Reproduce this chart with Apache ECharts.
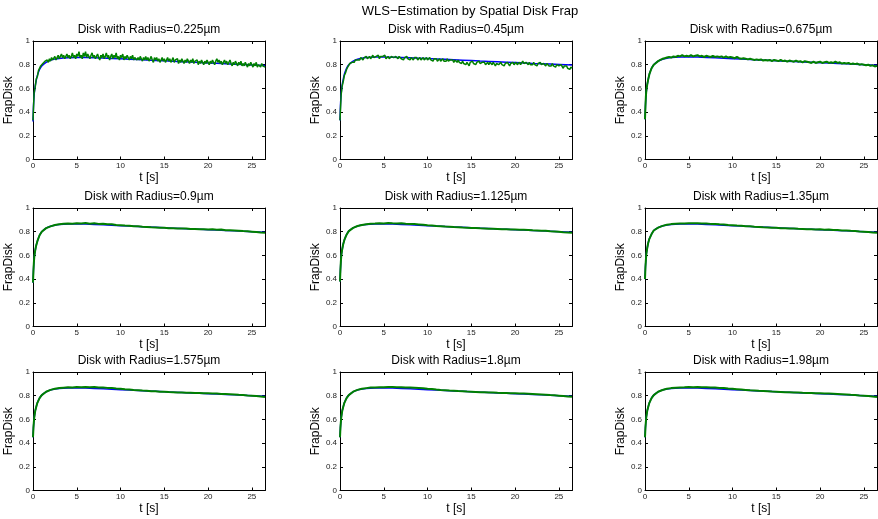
<!DOCTYPE html>
<html>
<head>
<meta charset="utf-8">
<script src="https://cdn.jsdelivr.net/npm/echarts@6/dist/echarts.min.js"></script>
<style>html,body{margin:0;padding:0;background:#fff;}#c{width:878px;height:519px;}</style>
</head>
<body>
<div id="c"></div>
<script>
const mainTitle = 'WLS\u2212Estimation by Spatial Disk Frap';
const radii = ['0.225', '0.45', '0.675', '0.9', '1.125', '1.35', '1.575', '1.8', '1.98'];
const xTicks = [0, 5, 10, 15, 20, 25];
const yTicks = [0, 0.2, 0.4, 0.6, 0.8, 1];

// time grid of the fitted curves
const tF = [0,0.05,0.1,0.15,0.25,0.35,0.5,0.75,1,1.5,2,2.5,3,4,5,6,8,10,12,14,16,18,20,22,24,26.5];
// dense time grid (panels 1-2 measured data)
const tD = [
0,0.125,0.25,0.375,0.5,0.625,0.75,0.875,
1,1.125,1.25,1.375,1.5,1.625,1.75,1.875,
2,2.125,2.25,2.375,2.5,2.625,2.75,2.875,
3,3.125,3.25,3.375,3.5,3.625,3.75,3.875,
4,4.125,4.25,4.375,4.5,4.625,4.75,4.875,
5,5.125,5.25,5.375,5.5,5.625,5.75,5.875,
6,6.125,6.25,6.375,6.5,6.625,6.75,6.875,
7,7.125,7.25,7.375,7.5,7.625,7.75,7.875,
8,8.125,8.25,8.375,8.5,8.625,8.75,8.875,
9,9.125,9.25,9.375,9.5,9.625,9.75,9.875,
10,10.125,10.25,10.375,10.5,10.625,10.75,10.875,
11,11.125,11.25,11.375,11.5,11.625,11.75,11.875,
12,12.125,12.25,12.375,12.5,12.625,12.75,12.875,
13,13.125,13.25,13.375,13.5,13.625,13.75,13.875,
14,14.125,14.25,14.375,14.5,14.625,14.75,14.875,
15,15.125,15.25,15.375,15.5,15.625,15.75,15.875,
16,16.125,16.25,16.375,16.5,16.625,16.75,16.875,
17,17.125,17.25,17.375,17.5,17.625,17.75,17.875,
18,18.125,18.25,18.375,18.5,18.625,18.75,18.875,
19,19.125,19.25,19.375,19.5,19.625,19.75,19.875,
20,20.125,20.25,20.375,20.5,20.625,20.75,20.875,
21,21.125,21.25,21.375,21.5,21.625,21.75,21.875,
22,22.125,22.25,22.375,22.5,22.625,22.75,22.875,
23,23.125,23.25,23.375,23.5,23.625,23.75,23.875,
24,24.125,24.25,24.375,24.5,24.625,24.75,24.875,
25,25.125,25.25,25.375,25.5,25.625,25.75,25.875,
26,26.125,26.25,26.375,26.5];
// medium time grid (panel 3 measured data)
const tA = [0,0.05,0.1,0.15,0.25,0.35,0.5,0.75,1,
1.25,1.5,1.75,2,2.25,2.5,2.75,3,3.25,3.5,3.75,4,4.25,4.5,4.75,5,
5.25,5.5,5.75,6,6.25,6.5,6.75,7,7.25,7.5,7.75,8,8.25,8.5,8.75,9,
9.25,9.5,9.75,10,10.25,10.5,10.75,11,11.25,11.5,11.75,12,12.25,12.5,12.75,13,
13.25,13.5,13.75,14,14.25,14.5,14.75,15,15.25,15.5,15.75,16,16.25,16.5,16.75,17,
17.25,17.5,17.75,18,18.25,18.5,18.75,19,19.25,19.5,19.75,20,20.25,20.5,20.75,21,
21.25,21.5,21.75,22,22.25,22.5,22.75,23,23.25,23.5,23.75,24,24.25,24.5,24.75,25,
25.25,25.5,25.75,26,26.25,26.5];
// coarser time grid (panels 4-9 measured data)
const tB = [0,0.05,0.1,0.15,0.25,0.35,0.5,0.75,1,
1.5,2,2.5,3,3.5,4,4.5,5,5.5,6,6.5,7,7.5,8,8.5,9,9.5,10,10.5,11,11.5,12,12.5,13,
13.5,14,14.5,15,15.5,16,16.5,17,17.5,18,18.5,19,19.5,20,20.5,21,21.5,22,22.5,23,
23.5,24,24.5,25,25.5,26,26.5];

// fitted curves (blue)
const fit1 = [0.32,0.44,0.51,0.56,0.62,0.66,0.71,0.76,0.79,0.82,0.837,0.847,0.853,0.858,0.860,0.860,0.856,0.850,0.843,0.836,0.829,0.822,0.815,0.808,0.801,0.793];
const fit2 = [0.33,0.45,0.52,0.57,0.63,0.67,0.72,0.77,0.80,0.83,0.846,0.855,0.860,0.865,0.865,0.863,0.858,0.852,0.845,0.838,0.831,0.825,0.818,0.811,0.805,0.797];
const fit3 = [0.34,0.45,0.52,0.57,0.63,0.67,0.72,0.77,0.80,0.83,0.846,0.855,0.860,0.865,0.866,0.864,0.858,0.851,0.844,0.837,0.830,0.823,0.817,0.810,0.804,0.796];
const fit4 = [0.37,0.47,0.54,0.59,0.64,0.68,0.72,0.77,0.80,0.83,0.846,0.855,0.860,0.865,0.866,0.864,0.858,0.851,0.844,0.837,0.830,0.823,0.817,0.810,0.804,0.796];
const fit5 = [0.38,0.48,0.55,0.60,0.65,0.69,0.73,0.775,0.805,0.832,0.847,0.856,0.861,0.865,0.866,0.864,0.858,0.851,0.844,0.837,0.830,0.823,0.817,0.810,0.804,0.796];
const fit6 = [0.40,0.50,0.56,0.61,0.66,0.70,0.74,0.78,0.81,0.834,0.848,0.856,0.861,0.865,0.866,0.864,0.858,0.851,0.844,0.837,0.830,0.823,0.817,0.810,0.804,0.796];
const fit7 = [0.45,0.53,0.58,0.62,0.67,0.70,0.74,0.78,0.805,0.833,0.848,0.856,0.861,0.865,0.866,0.864,0.858,0.851,0.844,0.837,0.830,0.823,0.817,0.810,0.804,0.796];
const fit8 = [0.45,0.53,0.58,0.62,0.67,0.70,0.74,0.78,0.805,0.833,0.848,0.856,0.861,0.865,0.866,0.864,0.858,0.851,0.844,0.837,0.830,0.823,0.817,0.810,0.804,0.796];
const fit9 = [0.45,0.53,0.58,0.62,0.67,0.70,0.74,0.78,0.805,0.833,0.848,0.856,0.861,0.865,0.866,0.864,0.858,0.851,0.844,0.837,0.830,0.823,0.817,0.810,0.804,0.796];

// measured data (green)
const data1 = [
0.33,0.56,0.61,0.68,0.70,0.75,0.76,0.79,
0.78,0.81,0.80,0.83,0.82,0.84,0.82,0.85,
0.83,0.86,0.84,0.85,0.87,0.84,0.86,0.88,
0.85,0.87,0.89,0.86,0.88,0.85,0.87,0.89,
0.86,0.88,0.85,0.87,0.90,0.86,0.88,0.85,
0.89,0.87,0.91,0.86,0.88,0.85,0.90,0.87,
0.91,0.86,0.89,0.87,0.85,0.88,0.90,0.86,
0.88,0.85,0.87,0.89,0.86,0.84,0.88,0.86,
0.89,0.85,0.87,0.90,0.86,0.88,0.84,0.87,
0.89,0.85,0.88,0.86,0.90,0.85,0.87,0.84,
0.88,0.86,0.89,0.84,0.87,0.85,0.88,0.86,
0.84,0.87,0.85,0.88,0.84,0.86,0.87,0.84,
0.86,0.84,0.87,0.85,0.83,0.86,0.84,0.87,
0.84,0.86,0.83,0.85,0.87,0.84,0.82,0.86,
0.84,0.86,0.83,0.85,0.82,0.84,0.86,0.83,
0.85,0.82,0.84,0.86,0.83,0.85,0.82,0.84,
0.86,0.82,0.84,0.83,0.85,0.81,0.84,0.82,
0.85,0.83,0.81,0.84,0.82,0.85,0.83,0.81,
0.84,0.82,0.85,0.81,0.83,0.82,0.84,0.80,
0.83,0.81,0.84,0.82,0.80,0.83,0.81,0.84,
0.82,0.80,0.83,0.81,0.84,0.82,0.80,0.83,
0.85,0.82,0.84,0.81,0.83,0.80,0.82,0.84,
0.81,0.83,0.80,0.82,0.84,0.81,0.79,0.82,
0.80,0.83,0.81,0.79,0.82,0.80,0.83,0.79,
0.81,0.79,0.82,0.80,0.78,0.81,0.79,0.82,
0.80,0.78,0.81,0.79,0.82,0.78,0.80,0.81,
0.78,0.81,0.79,0.80,0.78];
const data2 = [
0.33,0.54,0.62,0.66,0.71,0.73,0.76,0.78,
0.79,0.81,0.80,0.82,0.83,0.82,0.84,0.83,
0.84,0.85,0.84,0.86,0.85,0.84,0.86,0.85,
0.87,0.85,0.86,0.87,0.85,0.86,0.88,0.86,
0.85,0.87,0.86,0.88,0.85,0.87,0.86,0.87,
0.86,0.88,0.85,0.86,0.87,0.85,0.86,0.87,
0.88,0.86,0.85,0.87,0.86,0.85,0.87,0.86,
0.85,0.86,0.84,0.86,0.85,0.87,0.85,0.86,
0.84,0.86,0.85,0.84,0.86,0.85,0.86,0.84,
0.85,0.86,0.84,0.85,0.86,0.84,0.85,0.86,
0.84,0.85,0.86,0.84,0.85,0.83,0.85,0.84,
0.85,0.83,0.84,0.85,0.83,0.84,0.85,0.83,
0.84,0.83,0.85,0.83,0.82,0.84,0.83,0.84,
0.82,0.84,0.83,0.82,0.84,0.82,0.83,0.81,
0.83,0.81,0.82,0.80,0.82,0.81,0.79,0.82,
0.81,0.83,0.81,0.82,0.80,0.82,0.81,0.83,
0.81,0.80,0.82,0.81,0.82,0.80,0.81,0.82,
0.80,0.82,0.81,0.80,0.82,0.81,0.79,0.81,
0.82,0.80,0.81,0.82,0.80,0.81,0.79,0.81,
0.80,0.82,0.81,0.79,0.81,0.80,0.82,0.80,
0.81,0.82,0.80,0.81,0.82,0.80,0.81,0.83,
0.81,0.80,0.82,0.81,0.80,0.82,0.80,0.81,
0.80,0.82,0.80,0.81,0.79,0.81,0.80,0.82,
0.80,0.79,0.81,0.80,0.79,0.81,0.80,0.79,
0.80,0.79,0.81,0.79,0.80,0.78,0.80,0.79,
0.79,0.78,0.80,0.79,0.77,0.79,0.78,0.79,
0.77,0.78,0.76,0.78,0.77];
const data3 = [0.34,0.45,0.53,0.58,0.63,0.67,0.72,0.77,0.80,
0.815,0.83,0.84,0.85,0.855,0.86,0.865,0.86,0.87,0.865,0.875,0.87,0.88,0.87,0.875,0.87,
0.88,0.87,0.875,0.88,0.87,0.875,0.865,0.875,0.87,0.865,0.875,0.865,0.87,0.865,0.87,0.86,
0.87,0.86,0.865,0.86,0.855,0.865,0.855,0.85,0.855,0.85,0.845,0.85,0.845,0.84,0.845,0.84,
0.845,0.835,0.84,0.835,0.84,0.83,0.84,0.835,0.83,0.84,0.83,0.835,0.825,0.835,0.83,0.825,
0.835,0.825,0.83,0.82,0.83,0.825,0.82,0.815,0.825,0.815,0.82,0.825,0.815,0.82,0.825,0.815,
0.82,0.815,0.825,0.815,0.82,0.81,0.815,0.81,0.815,0.805,0.81,0.805,0.81,0.80,0.805,0.80,
0.795,0.80,0.79,0.795,0.785,0.79];
const data4 = [0.37,0.47,0.54,0.59,0.64,0.68,0.72,0.77,0.80,
0.83,0.845,0.856,0.862,0.867,0.870,0.868,0.872,0.870,0.873,0.868,0.871,0.866,0.868,0.862,0.863,
0.857,0.855,0.852,0.850,0.846,0.845,0.841,0.840,0.837,0.836,0.833,0.834,0.830,0.830,0.828,0.826,
0.826,0.822,0.823,0.820,0.820,0.818,0.821,0.817,0.818,0.813,0.812,0.810,0.808,0.805,0.803,0.800,
0.797,0.793,0.792];
const data5 = [0.38,0.48,0.55,0.60,0.65,0.69,0.73,0.775,0.805,
0.832,0.848,0.857,0.863,0.868,0.869,0.871,0.870,0.873,0.871,0.870,0.872,0.867,0.866,0.864,0.861,
0.858,0.854,0.853,0.849,0.847,0.844,0.842,0.839,0.838,0.835,0.834,0.832,0.831,0.829,0.828,0.825,
0.825,0.823,0.821,0.820,0.819,0.819,0.817,0.816,0.815,0.812,0.811,0.808,0.807,0.804,0.802,0.799,
0.796,0.794,0.791];
const data6 = [0.40,0.50,0.56,0.61,0.66,0.70,0.74,0.78,0.81,
0.834,0.849,0.858,0.864,0.868,0.870,0.870,0.872,0.871,0.872,0.869,0.870,0.866,0.866,0.862,0.861,
0.857,0.855,0.852,0.850,0.846,0.845,0.841,0.840,0.837,0.836,0.833,0.833,0.830,0.829,0.827,0.826,
0.824,0.823,0.821,0.821,0.819,0.820,0.817,0.818,0.815,0.814,0.811,0.810,0.807,0.805,0.802,0.800,
0.797,0.794,0.791];
const data7 = [0.45,0.53,0.58,0.62,0.67,0.70,0.74,0.78,0.805,
0.833,0.849,0.858,0.865,0.868,0.871,0.870,0.873,0.872,0.874,0.871,0.873,0.869,0.870,0.866,0.866,
0.861,0.859,0.855,0.852,0.848,0.846,0.843,0.841,0.838,0.837,0.834,0.834,0.831,0.830,0.828,0.827,
0.825,0.824,0.822,0.822,0.820,0.821,0.818,0.818,0.815,0.814,0.812,0.810,0.807,0.805,0.802,0.800,
0.797,0.794,0.790];
const data8 = [0.45,0.53,0.58,0.62,0.67,0.70,0.74,0.78,0.805,
0.834,0.849,0.859,0.864,0.869,0.870,0.871,0.872,0.873,0.873,0.872,0.872,0.870,0.869,0.867,0.865,
0.862,0.858,0.856,0.852,0.849,0.847,0.844,0.842,0.839,0.838,0.835,0.834,0.832,0.830,0.829,0.827,
0.826,0.824,0.823,0.822,0.821,0.820,0.819,0.818,0.816,0.814,0.812,0.810,0.808,0.805,0.803,0.800,
0.797,0.794,0.791];
const data9 = [0.45,0.53,0.58,0.62,0.67,0.70,0.74,0.78,0.805,
0.833,0.848,0.858,0.864,0.868,0.870,0.871,0.873,0.872,0.874,0.872,0.872,0.869,0.869,0.866,0.865,
0.861,0.858,0.855,0.852,0.849,0.846,0.844,0.841,0.839,0.837,0.835,0.834,0.832,0.830,0.829,0.827,
0.826,0.824,0.823,0.822,0.821,0.821,0.819,0.818,0.816,0.814,0.812,0.810,0.807,0.805,0.802,0.800,
0.797,0.794,0.790];

const fits = [fit1, fit2, fit3, fit4, fit5, fit6, fit7, fit8, fit9];
const datas = [data1, data2, data3, data4, data5, data6, data7, data8, data9];
const dataTimes = [tD, tD, tA, tB, tB, tB, tB, tB, tB];

const FONT = 'Liberation Sans, Arial, Helvetica, sans-serif';
const colLeft = [33, 340, 645];
const rowTop = [41, 208, 372];
const W = 232, H = 118.5;

const zip = (xs, ys) => xs.map((x, i) => [x, ys[i]]);

const grids = [], xAxes = [], yAxes = [], series = [], titles = [];
titles.push({
  text: mainTitle, left: 470, top: 5, textAlign: 'center', padding: 0,
  textStyle: { fontFamily: FONT, fontSize: 13, fontWeight: 'normal', color: '#000' }
});

for (let i = 0; i < 9; i++) {
  const r = Math.floor(i / 3), c = i % 3;
  grids.push({ left: colLeft[c], top: rowTop[r], width: W, height: H, show: false });
  titles.push({
    text: 'Disk with Radius=' + radii[i] + '\u00b5m',
    left: colLeft[c] + W / 2, top: rowTop[r] - 17, textAlign: 'center', padding: 0,
    textStyle: { fontFamily: FONT, fontSize: 12, fontWeight: 'normal', color: '#000' }
  });
  const axLine = { show: true, onZero: false, lineStyle: { color: '#000', width: 1 } };
  const tick = { show: true, inside: true, length: 3, lineStyle: { color: '#000', width: 1 } };
  xAxes.push({
    type: 'value', gridIndex: i, position: 'bottom', min: 0, max: 26.5, interval: 5,
    name: 't [s]', nameLocation: 'middle', nameGap: 12,
    nameTextStyle: { fontFamily: FONT, fontSize: 12, color: '#000' },
    axisLine: axLine, axisTick: tick, splitLine: { show: false },
    axisLabel: { show: true, fontFamily: FONT, fontSize: 8, color: '#222', margin: 2, showMaxLabel: false,
      formatter: v => (xTicks.indexOf(v) >= 0 ? String(v) : '') }
  });
  xAxes.push({
    type: 'value', gridIndex: i, position: 'top', min: 0, max: 26.5, interval: 5,
    axisLine: axLine, axisTick: tick, splitLine: { show: false }, axisLabel: { show: false }
  });
  yAxes.push({
    type: 'value', gridIndex: i, position: 'left', min: 0, max: 1, interval: 0.2,
    name: 'FrapDisk', nameLocation: 'middle', nameGap: 14,
    nameTextStyle: { fontFamily: FONT, fontSize: 12, color: '#000' },
    axisLine: axLine, axisTick: tick, splitLine: { show: false },
    axisLabel: { show: true, fontFamily: FONT, fontSize: 8, color: '#222', margin: 3,
      formatter: v => { const k = yTicks.findIndex(t => Math.abs(t - v) < 1e-9); return k >= 0 ? String(yTicks[k]) : ''; } }
  });
  yAxes.push({
    type: 'value', gridIndex: i, position: 'right', min: 0, max: 1, interval: 0.2,
    axisLine: axLine, axisTick: tick, splitLine: { show: false }, axisLabel: { show: false }
  });
  series.push({
    type: 'line', xAxisIndex: 2 * i, yAxisIndex: 2 * i, data: zip(tF, fits[i]),
    showSymbol: false, symbol: 'none', smooth: 0.3, animation: false, silent: true,
    lineStyle: { color: '#0000ff', width: 1.5 }, z: 2
  });
  series.push({
    type: 'line', xAxisIndex: 2 * i, yAxisIndex: 2 * i, data: zip(dataTimes[i], datas[i]),
    showSymbol: false, symbol: 'none', animation: false, silent: true,
    lineStyle: { color: '#008000', width: i < 2 ? 1.5 : 2 }, z: 3
  });
}

const chart = echarts.init(document.getElementById('c'), null, { renderer: 'canvas' });
chart.setOption({
  backgroundColor: '#fff', animation: false,
  title: titles, grid: grids, xAxis: xAxes, yAxis: yAxes, series: series
});
</script>
</body>
</html>
